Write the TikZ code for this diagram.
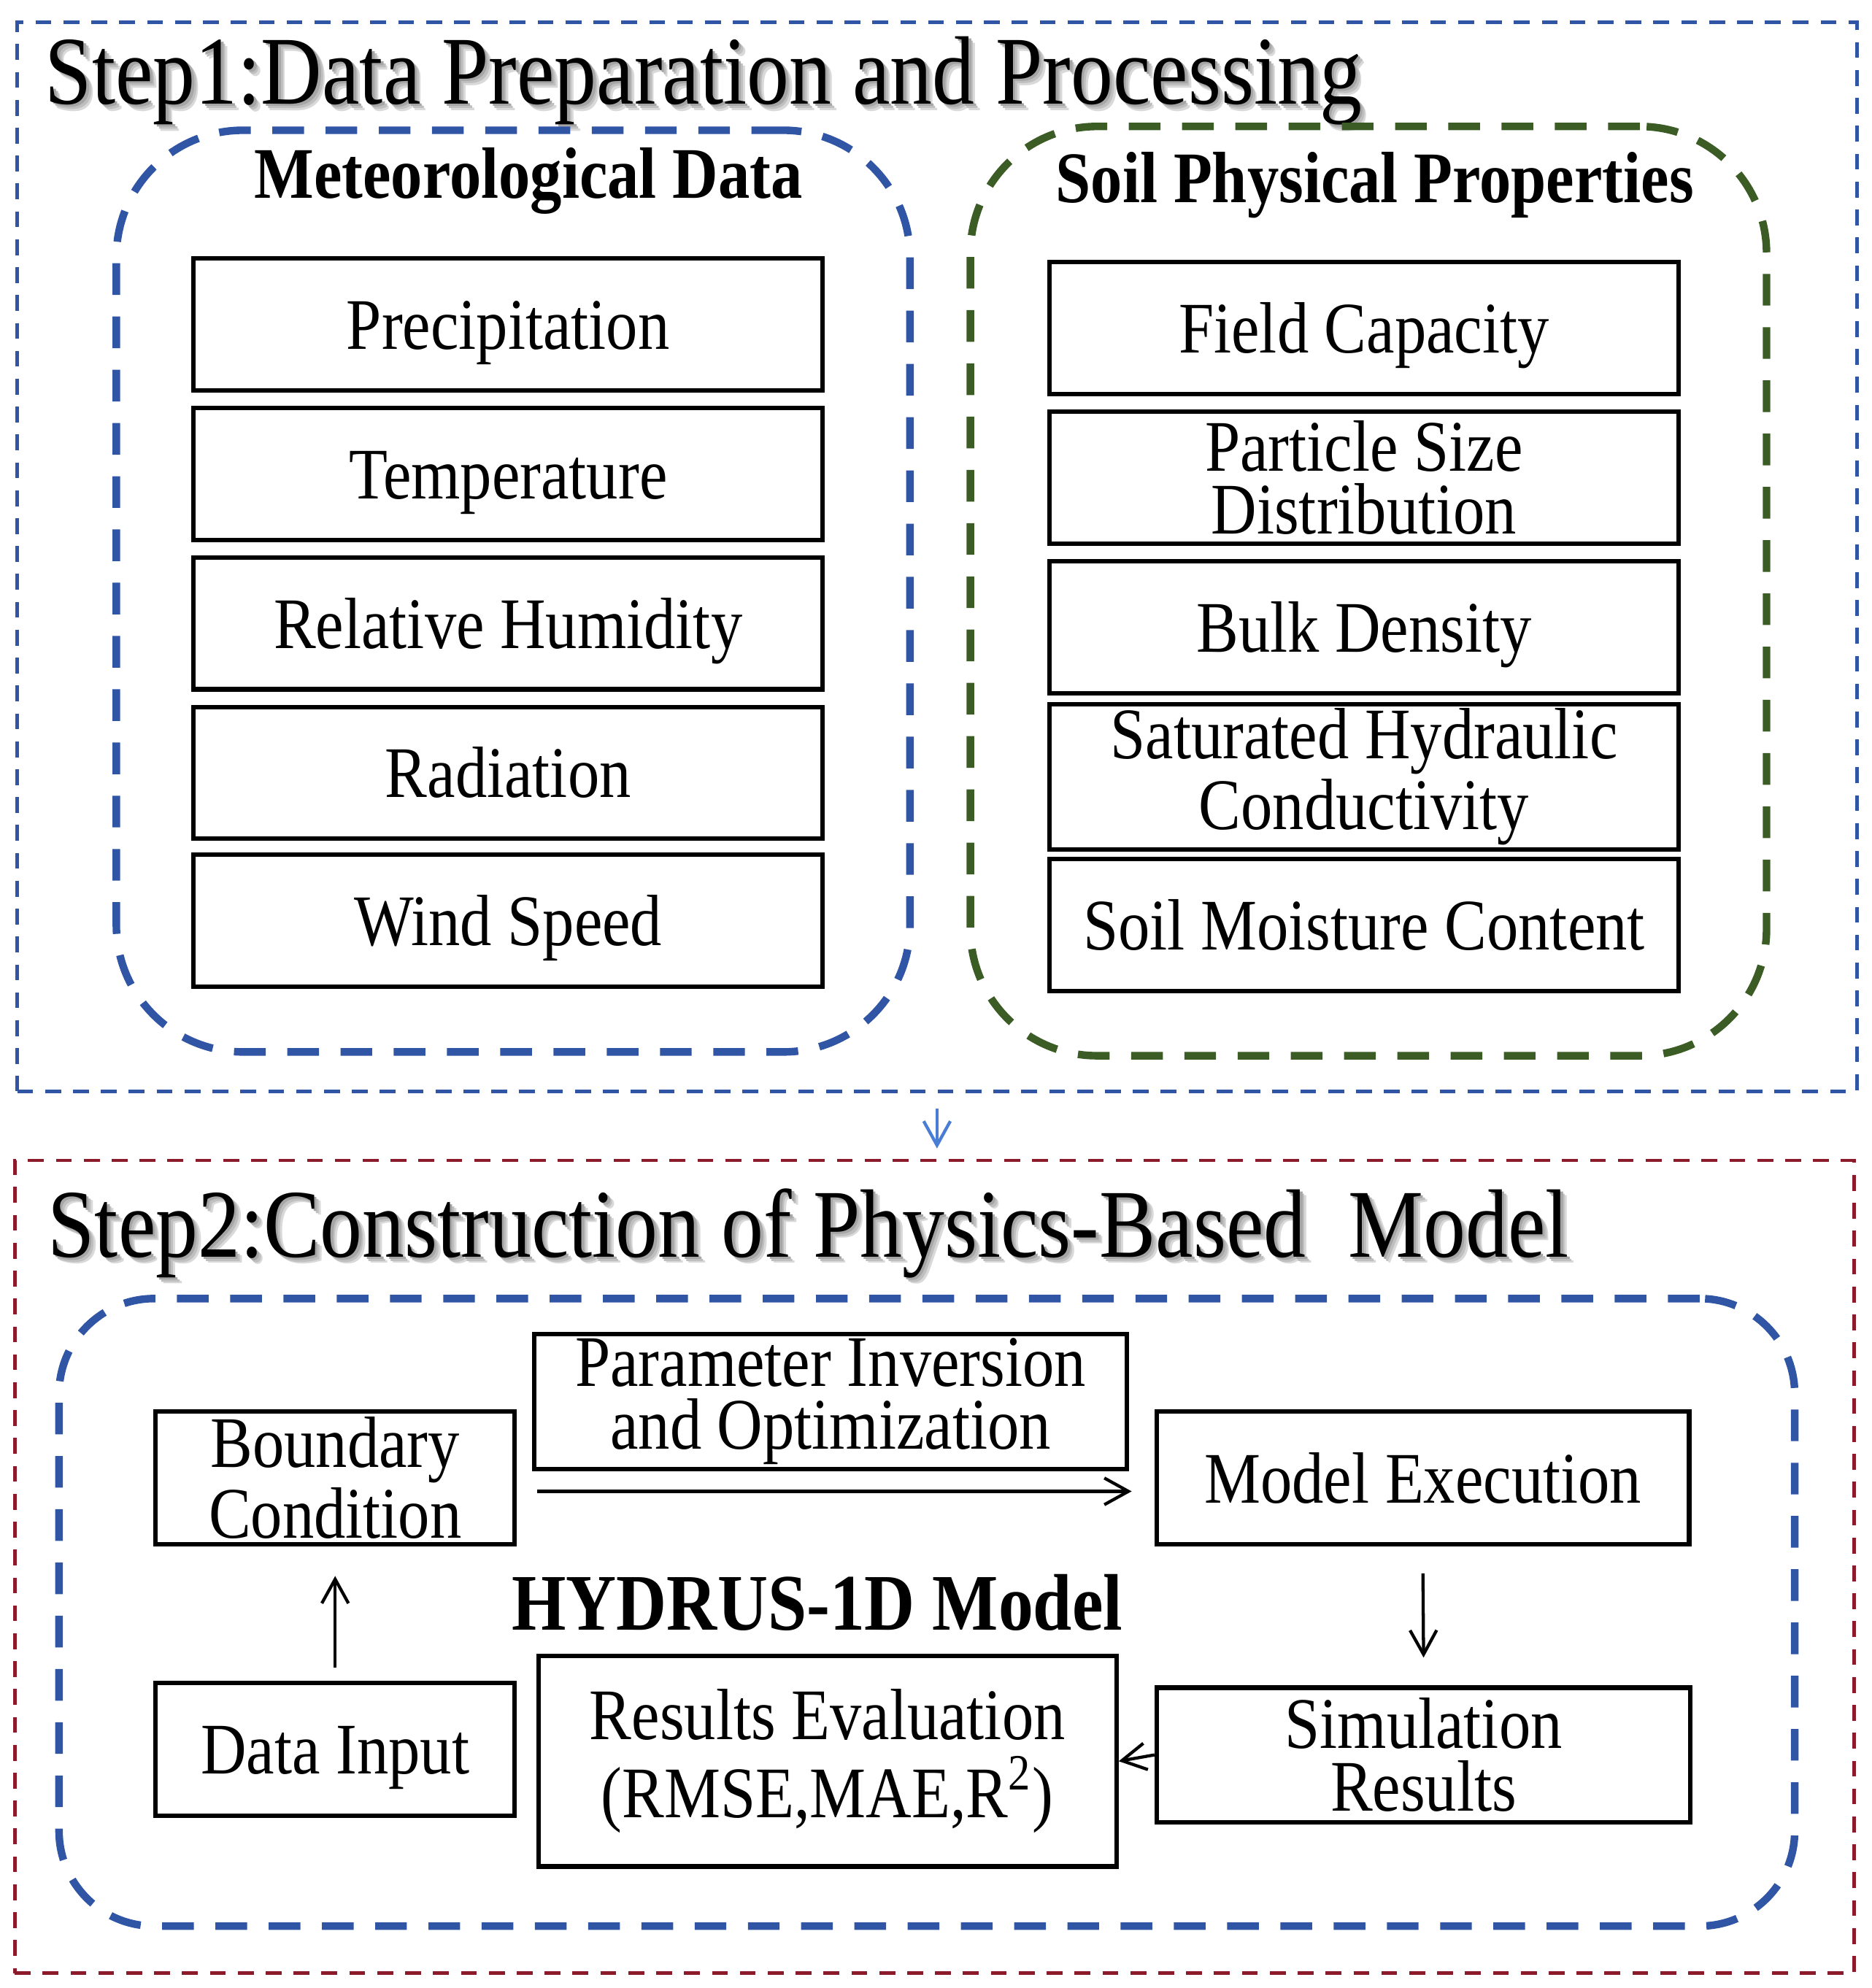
\documentclass[tikz,border=0pt]{standalone}
\usepackage{fontspec}
\setmainfont{Liberation Serif}[FakeStretch=0.87]
\usetikzlibrary{arrows.meta}

\begin{document}
\begin{tikzpicture}[x=0.01cm,y=-0.01cm,
  frame/.style={draw,line width=0.8pt,dash pattern=on 0.125cm off 0.095cm,minimum width=14.51cm},
  group/.style={draw,line width=1.7pt,dash pattern=on 0.25cm off 0.17cm,rounded corners=1cm},
  databox/.style={draw,line width=1pt,inner sep=1pt,align=center,font=\fontsize{16.3}{14}\selectfont},
  colbox/.style={databox,minimum width=4.96cm,minimum height=1.04cm},
  onel/.style={text height=11.1pt,text depth=0pt},
  twol/.style={},
  arr/.style={-{Straight Barb[length=0.19cm,width=0.21cm]},line width=0.7pt},
  heading/.style={font=\bfseries\fontsize{16.3}{18}\selectfont},
  steptitle/.style={anchor=base west,inner sep=0pt,font=\fontsize{21.8}{24}\selectfont}]
\definecolor{stepblue}{HTML}{2F55A4}
\definecolor{stepred}{HTML}{8B1A2B}
\definecolor{soilgreen}{HTML}{3B5C24}
\definecolor{linkblue}{HTML}{4A7DD4}
\useasboundingbox (0,0) rectangle (1477,1569);

% step frames
\node[frame,stepblue,minimum height=8.43cm] (step1) at (739.5,439.5) {};
\node[frame,stepred,minimum height=6.41cm] (step2) at (737.5,1236.5) {};
\draw[arr,linkblue] ([yshift=-0.12cm]step1.south) -- ([yshift=0.08cm]step1.south |- step2.north);

% titles with soft shadow
\foreach \dx/\shade in {5/15,3.5/25,2/35}
  {\node[steptitle,text=black!\shade] at (35+\dx,82+\dx) {Step1:Data Preparation and Processing};
   \node[steptitle,text=black!\shade] at (37+\dx,992+\dx) {Step2:Construction of Physics-Based~ Model};}
\node[steptitle] (title1) at (35,82) {Step1:Data Preparation and Processing};
\node[steptitle] (title2) at (37,992) {Step2:Construction of Physics-Based~ Model};

% step 1
\node[group,stepblue,minimum width=6.26cm,minimum height=7.27cm] (met) at (405,466.5) {};
\node[group,soilgreen,minimum width=6.28cm,minimum height=7.33cm] (soil) at (1080,466.5) {};
\node[heading] (methead) at (417,143) {Meteorological Data};
\node[heading] (soilhead) at (1085,146) {Soil Physical Properties};
\foreach \txt/\pos in {Precipitation/256,Temperature/374,Relative Humidity/492,Radiation/610,Wind Speed/726.5}
  {\node[colbox,onel] (met\pos) at (401,\pos) {\txt};}
\foreach \txt/\pos/\lines in {Field Capacity/259/onel,{Particle Size\\Distribution}/377/twol,Bulk Density/495/onel,
  {Saturated Hydraulic\\Conductivity}/613/twol,Soil Moisture Content/730/onel}
  {\node[colbox,\lines] (soil\pos) at (1076.5,\pos) {\txt};}

% step 2
\node[group,stepblue,rounded corners=0.75cm,minimum width=13.69cm,minimum height=4.95cm] (hydrus) at (731.5,1272.5) {};
\node[font=\bfseries\fontsize{18}{20}\selectfont] (hydrushead) at (645,1265) {HYDRUS-1D Model};
\node[databox,minimum width=2.83cm,minimum height=1.05cm] (bc) at (264.5,1166.5) {Boundary\\Condition};
\node[databox,minimum width=4.67cm,minimum height=1.06cm] (pio) at (655.5,1106) {Parameter Inversion\\and Optimization};
\node[databox,onel,minimum width=4.2cm,minimum height=1.05cm] (me) at (1123,1166.5) {Model Execution};
\node[databox,onel,minimum width=2.83cm,minimum height=1.05cm] (di) at (264.5,1380.5) {Data Input};
\node[databox,minimum width=4.56cm,minimum height=1.66cm] (re) at (653,1390) {Results Evaluation\\[3.5pt](RMSE,MAE,R\textsuperscript{2})};
\node[databox,minimum width=4.21cm,minimum height=1.06cm] (sr) at (1123.5,1385) {Simulation\\Results};

\draw[arr] ([shift={(0.16cm,-0.105cm)}]bc.east) -- ([shift={(-0.18cm,-0.105cm)}]me.west);
\draw[arr] ([yshift=0.1cm]di.north) -- ([yshift=-0.23cm]bc.south);
\draw[arr] ([yshift=-0.21cm]me.south) -- ([yshift=0.22cm]sr.north);
\draw[arr] (sr.west) -- (re.east);
\end{tikzpicture}
\end{document}
